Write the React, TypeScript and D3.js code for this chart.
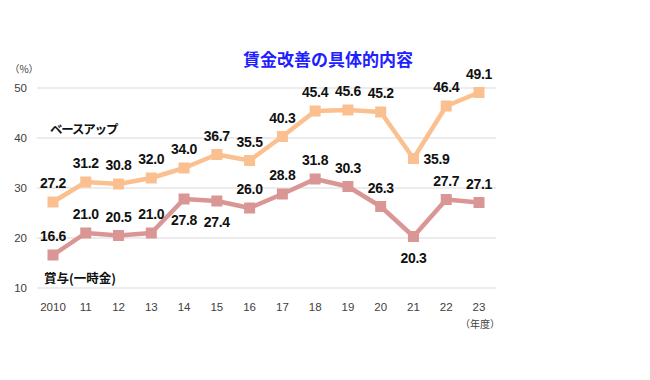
import React from "react";
import * as d3 from "d3";

const years = ["2010", "11", "12", "13", "14", "15", "16", "17", "18", "19", "20", "21", "22", "23"];
const baseUp = [27.2, 31.2, 30.8, 32.0, 34.0, 36.7, 35.5, 40.3, 45.4, 45.6, 45.2, 35.9, 46.4, 49.1];
const bonus = [16.6, 21.0, 20.5, 21.0, 27.8, 27.4, 26.0, 28.8, 31.8, 30.3, 26.3, 20.3, 27.7, 27.1];
const baseUpPlace = ["above", "above", "above", "above", "above", "above", "above", "above", "above", "above", "above", "right", "above", "above"];
const bonusPlace = ["above", "above", "above", "above", "below", "below", "above", "above", "above", "above", "above", "below", "above", "above"];
const yTicks = [10, 20, 30, 40, 50];

const W = 650, H = 380;

export default function App() {
  const x = d3.scalePoint<string>().domain(years).range([53, 479]);
  const y = d3.scaleLinear().domain([10, 50]).range([288, 88]);
  const line = d3.line<number>().x((_, i) => x(years[i])!).y((d) => y(d));
  const numFont = "'Liberation Sans', Arial, sans-serif";
  const jpFont = "'Noto Sans CJK JP', sans-serif";

  const series = [
    { data: baseUp, place: baseUpPlace, color: "#fac090" },
    { data: bonus, place: bonusPlace, color: "#d99694" },
  ];

  const labelPos = (px: number, py: number, p: string) => {
    if (p === "below") return [px, py + 26];
    if (p === "right") return [px + 23, py + 5];
    return [px, py - 14];
  };

  return (
    <svg width={W} height={H} style={{ position: "absolute", left: 0, top: 0, background: "#fff" }}>
      <text x={328} y={66} textAnchor="middle" fontFamily={jpFont} fontWeight="bold" fontSize={17} fill="#2020ff">
        賃金改善の具体的内容
      </text>
      {yTicks.map((t) => (
        <g key={t}>
          <line x1={37} x2={496} y1={y(t)} y2={y(t)} stroke="#d9d9d9" strokeWidth={1} />
          <text x={27} y={y(t) + 4} textAnchor="end" fontFamily={numFont} fontSize={11.5} fill="#404040">
            {t}
          </text>
        </g>
      ))}
      <text x={24} y={73} textAnchor="middle" fontFamily={jpFont} fontSize={10} fill="#404040">（%）</text>
      {years.map((yr) => (
        <text key={yr} x={x(yr)!} y={311} textAnchor="middle" fontFamily={numFont} fontSize={11.5} fill="#404040">
          {yr}
        </text>
      ))}
      <text x={480} y={328} textAnchor="middle" fontFamily={jpFont} fontSize={10} fill="#404040">（年度）</text>
      {series.map((s, si) => (
        <g key={si}>
          <path d={line(s.data)!} fill="none" stroke={s.color} strokeWidth={4.5} strokeLinejoin="round" />
          {s.data.map((v, i) => (
            <rect key={i} x={x(years[i])! - 5.5} y={y(v) - 5.5} width={11} height={11} fill={s.color} />
          ))}
          {s.data.map((v, i) => {
            const [lx, ly] = labelPos(x(years[i])!, y(v), s.place[i]);
            return (
              <text key={"l" + i} x={lx} y={ly} textAnchor="middle" fontFamily={numFont} fontWeight="bold" fontSize={14} letterSpacing={-0.3} fill="#111">
                {v.toFixed(1)}
              </text>
            );
          })}
        </g>
      ))}
      <text x={50} y={134} fontFamily={jpFont} fontWeight="bold" fontSize={12.5} letterSpacing={-1.2} fill="#111">ベースアップ</text>
      <text x={44} y={283} fontFamily={jpFont} fontWeight="bold" fontSize={12.5} fill="#111">賞与(一時金)</text>
    </svg>
  );
}
